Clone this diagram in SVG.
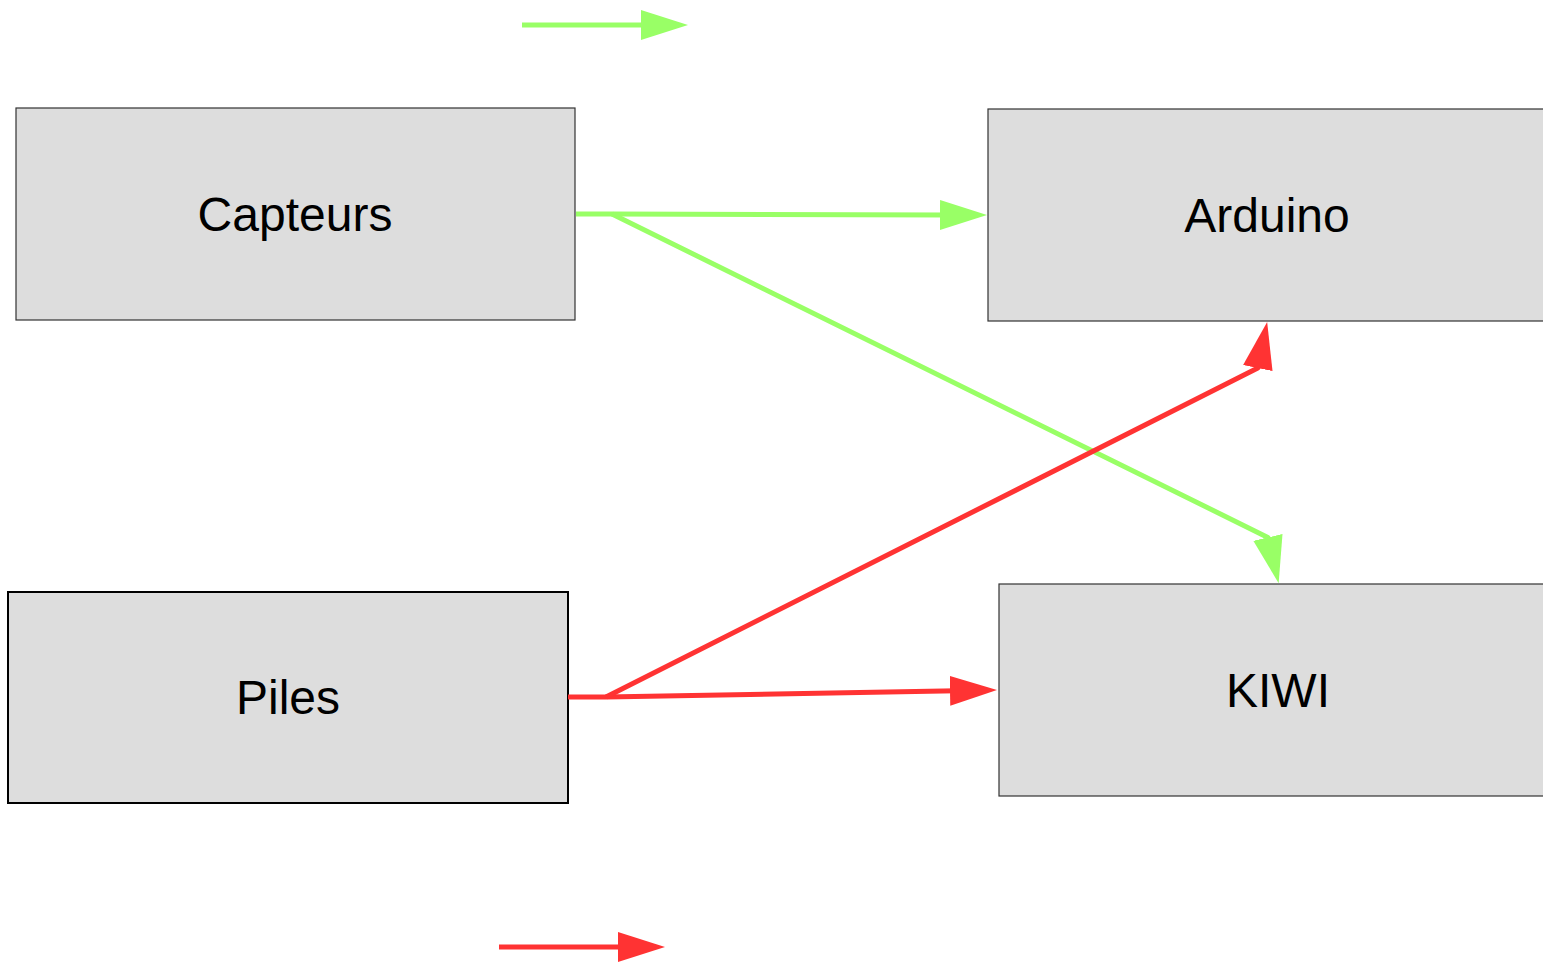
<svg xmlns="http://www.w3.org/2000/svg" width="1543" height="963" viewBox="0 0 1543 963">
<style>
.box{fill:#dddddd;stroke:#333333;stroke-width:1.2}
.box2{fill:#dddddd;stroke:#000000;stroke-width:2}
.lbl{font-family:"Liberation Sans",Arial,sans-serif;font-size:48px;fill:#000;text-anchor:middle}
.g{fill:none;stroke:#99ff66;stroke-width:5;stroke-linejoin:round}
.r{fill:none;stroke:#ff3333;stroke-width:5;stroke-linejoin:round}
</style>
<defs>
<marker id="ag" markerUnits="userSpaceOnUse" markerWidth="48" markerHeight="32" refX="7" refY="15" orient="auto"><path d="M0,0 L47,15 L0,30 z" fill="#99ff66"/></marker>
<marker id="ar" markerUnits="userSpaceOnUse" markerWidth="48" markerHeight="32" refX="7" refY="15" orient="auto"><path d="M0,0 L47,15 L0,30 z" fill="#ff3333"/></marker>
</defs>
<rect width="1543" height="963" fill="#ffffff"/>
<g id="capteurs"><rect class="box" x="16" y="108" width="559" height="212"/><text class="lbl" x="295" y="231">Capteurs</text></g>
<g id="arduino"><rect class="box" x="988" y="109" width="570" height="212"/><text class="lbl" x="1267" y="232">Arduino</text></g>
<g id="piles"><rect class="box2" x="8" y="592" width="560" height="211"/><text class="lbl" x="288" y="714">Piles</text></g>
<g id="kiwi"><rect class="box" x="999" y="584" width="560" height="212"/><text class="lbl" x="1278" y="707">KIWI</text></g>
<g id="connectors">
<path class="g" d="M522,25 L648,25" marker-end="url(#ag)"/>
<path class="g" d="M576,214 L612,214 L947,215" marker-end="url(#ag)"/>
<path class="g" d="M612,214 L1267.9,537.4 L1269.5,544.2" marker-end="url(#ag)"/>
<path class="r" d="M568,697 L606,697 L957,690.7" marker-end="url(#ar)"/>
<path class="r" d="M606,697 L1257.8,368.1 L1259.2,361.2" marker-end="url(#ar)"/>
<path class="r" d="M499,947 L625,947" marker-end="url(#ar)"/>
</g>
</svg>
